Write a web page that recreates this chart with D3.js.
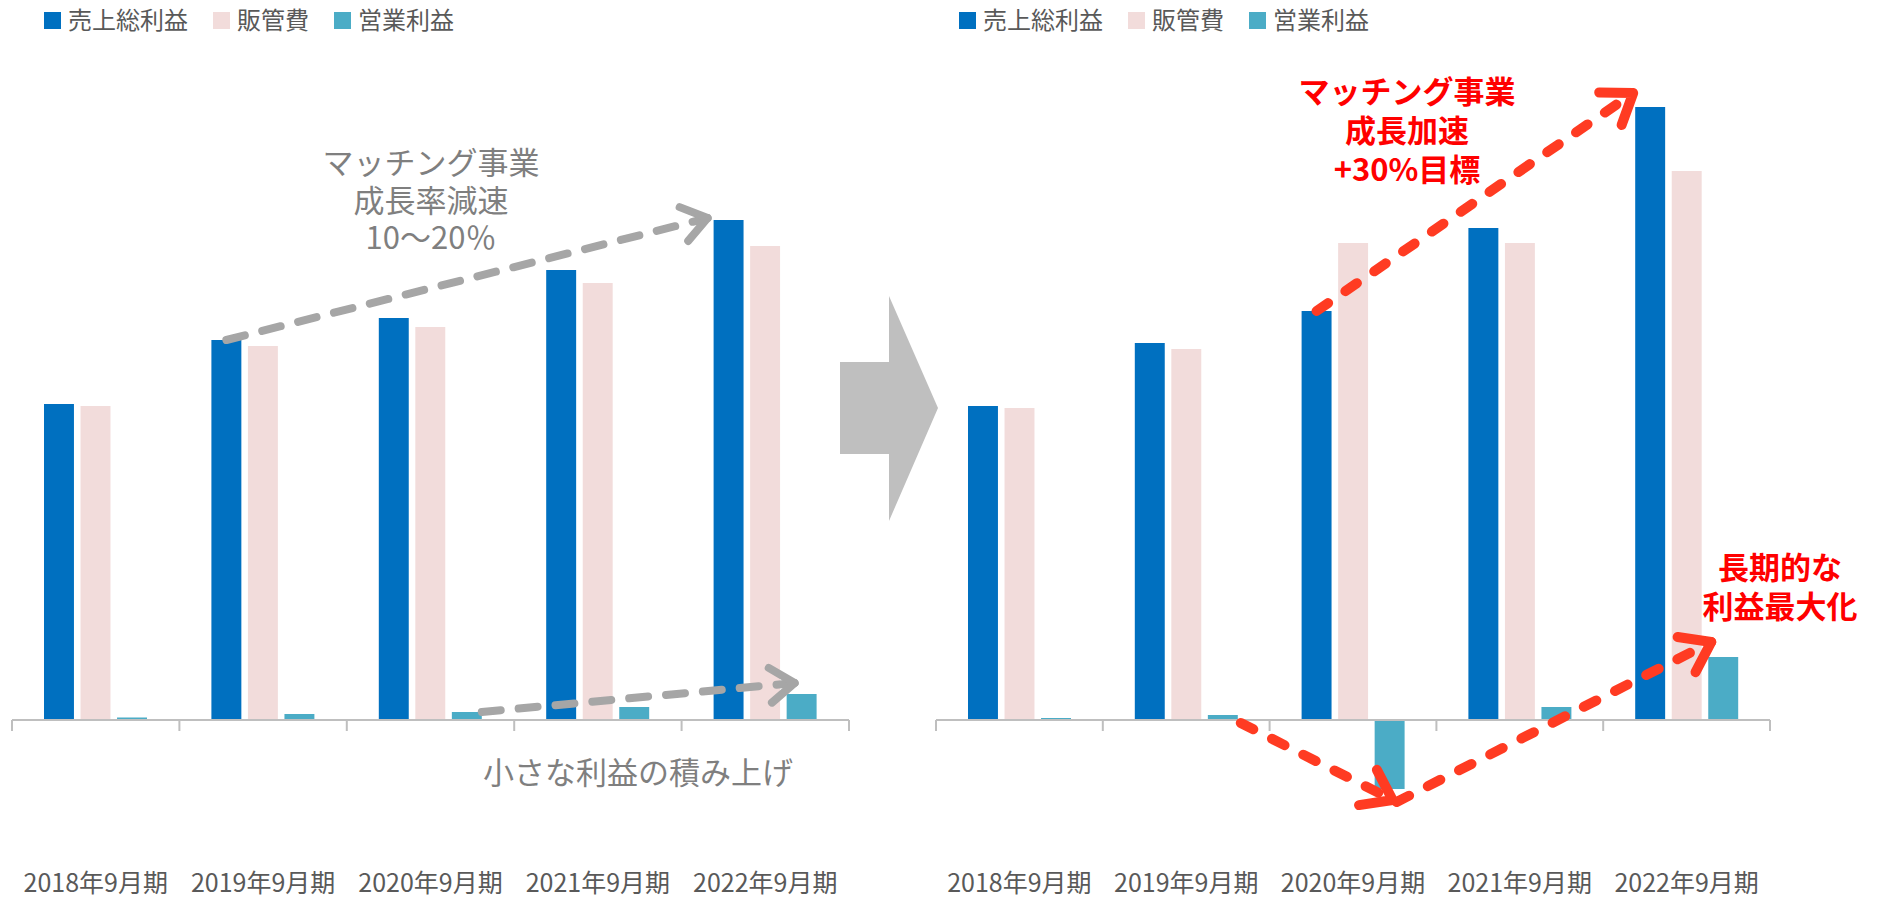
<!DOCTYPE html>
<html>
<head>
<meta charset="utf-8">
<script src="https://cdn.jsdelivr.net/npm/d3@7"></script>
<style>
  body { margin: 0; background: #fff; }
  text { font-family: "Noto Sans CJK JP", "Noto Sans", sans-serif; }
</style>
</head>
<body>
<script>
// periods and series
const categories = ['2018年9月期', '2019年9月期', '2020年9月期', '2021年9月期', '2022年9月期']
const seriesNames = ['売上総利益', '販管費', '営業利益']

// left chart: actuals (relative units)
const leftGross = [3160, 3800, 4020, 4500, 5000]
const leftSga = [3140, 3740, 3930, 4370, 4740]
const leftOp = [25, 60, 80, 130, 260]

// right chart: plan
const rightGross = [3140, 3770, 4090, 4920, 6130]
const rightSga = [3120, 3710, 4770, 4770, 5490]
const rightOp = [20, 50, -690, 130, 630]

const w = 1879
const h = 899
const colors = ['#0070c0', '#f2dcdb', '#4bacc6']

const svg = d3.select('body')
    .append('svg')
    .attr('width', w)
    .attr('height', h)

const y = d3.scaleLinear()
    .domain([-1000, 6500])
    .range([820, 70])

const drawChart = (x0start, x0end, gross, sga, op, legendX) => {
    const x0 = d3.scaleBand().domain(categories).range([x0start, x0end])
    const x1 = d3.scaleBand().domain(seriesNames).range([32, 135]).paddingInner(0.18)
    const rows = categories.map((c, i) => ({ cat: c, vals: [gross[i], sga[i], op[i]] }))

    const g = svg.append('g')

    g.selectAll('g.grp')
        .data(rows)
        .enter()
        .append('g')
        .attr('class', 'grp')
        .attr('transform', d => `translate(${x0(d.cat)},0)`)
        .selectAll('rect')
        .data(d => d.vals.map((v, k) => ({ k, v })))
        .enter()
        .append('rect')
        .attr('x', d => x1(seriesNames[d.k]))
        .attr('width', x1.bandwidth())
        .attr('y', d => y(Math.max(0, d.v)))
        .attr('height', d => Math.abs(y(d.v) - y(0)))
        .attr('fill', d => colors[d.k])

    // axis line with ticks on band edges
    g.append('line')
        .attr('x1', x0start).attr('x2', x0end)
        .attr('y1', y(0)).attr('y2', y(0))
        .attr('stroke', '#bfbfbf')
        .attr('stroke-width', 2)

    g.selectAll('line.tick')
        .data(categories.map(c => x0(c)).concat([x0end]))
        .enter()
        .append('line')
        .attr('class', 'tick')
        .attr('x1', d => d).attr('x2', d => d)
        .attr('y1', y(0)).attr('y2', y(0) + 11)
        .attr('stroke', '#bfbfbf')
        .attr('stroke-width', 2)

    g.selectAll('text.lab')
        .data(categories)
        .enter()
        .append('text')
        .attr('class', 'lab')
        .attr('x', d => x0(d) + x0.bandwidth() / 2)
        .attr('y', 892)
        .attr('text-anchor', 'middle')
        .attr('font-size', 25)
        .attr('fill', '#595959')
        .text(d => d)

    // legend
    let lx = legendX
    seriesNames.forEach((s, i) => {
        g.append('rect')
            .attr('x', lx).attr('y', 12)
            .attr('width', 17).attr('height', 17)
            .attr('fill', colors[i])
        const t = g.append('text')
            .attr('x', lx + 24).attr('y', 29)
            .attr('font-size', 24)
            .attr('fill', '#595959')
            .text(s)
        lx += 24 + t.node().getComputedTextLength() + 25
    })

    return { x0, x1 }
}

const dashedArrow = (xa, ya, xb, yb, color, sw, dash, head) => {
    svg.append('line')
        .attr('x1', xa).attr('y1', ya)
        .attr('x2', xb).attr('y2', yb)
        .attr('stroke', color)
        .attr('stroke-width', sw)
        .attr('stroke-linecap', 'round')
        .attr('stroke-dasharray', dash)
    const a = Math.atan2(yb - ya, xb - xa)
    const sp = 0.62
    const p1 = [xb + head * Math.cos(a + Math.PI - sp), yb + head * Math.sin(a + Math.PI - sp)]
    const p2 = [xb + head * Math.cos(a + Math.PI + sp), yb + head * Math.sin(a + Math.PI + sp)]
    svg.append('path')
        .attr('d', `M${p1[0]},${p1[1]}L${xb},${yb}L${p2[0]},${p2[1]}`)
        .attr('fill', 'none')
        .attr('stroke', color)
        .attr('stroke-width', sw)
        .attr('stroke-linecap', 'round')
        .attr('stroke-linejoin', 'round')
}

// one text element, one tspan per line
const multiText = (lines, x, y0, lh, size, color, weight) => {
    const t = svg.append('text')
        .attr('text-anchor', 'middle')
        .attr('font-size', size)
        .attr('font-weight', weight)
        .attr('fill', color)
    lines.forEach((l, i) => {
        t.append('tspan')
            .attr('x', x)
            .attr('y', y0 + i * lh + size * 0.36)
            .text(l)
    })
}

const L = drawChart(12, 849, leftGross, leftSga, leftOp, 44)
const R = drawChart(936, 1770, rightGross, rightSga, rightOp, 959)

// big gray arrow between the charts
svg.append('path')
    .attr('d', 'M840,362L889,362L889,296L938,408L889,521L889,454L840,454Z')
    .attr('fill', '#bfbfbf')

// left annotations
const gx = (s, c, sc) => sc.x0(categories[c]) + sc.x1(seriesNames[s])
const bw = L.x1.bandwidth()

dashedArrow(gx(0, 1, L) + bw / 2, y(leftGross[1]), gx(0, 4, L) - 6, y(leftGross[4]) - 2,
    '#a6a6a6', 8, '19 18', 30)
dashedArrow(gx(2, 2, L) + bw, y(leftOp[2]), gx(2, 4, L) + 8, y(leftOp[4]) - 11,
    '#a6a6a6', 8, '19 18', 30)

multiText(['マッチング事業', '成長率減速', '10～20％'], 431, 163, 37.5, 31, '#7f7f7f', 400)

svg.append('text')
    .attr('x', 483)
    .attr('y', 770)
    .attr('dominant-baseline', 'central')
    .attr('font-size', 31)
    .attr('fill', '#7f7f7f')
    .text('小さな利益の積み上げ')

// right annotations
const red = '#ff3b22'
dashedArrow(gx(0, 2, R) + bw / 2, y(rightGross[2]), gx(0, 4, R) - 2, y(rightGross[4]) - 14,
    red, 10, '14 21', 34)
dashedArrow(gx(2, 1, R) + bw + 3, y(0) + 3, gx(2, 2, R) + bw / 2 + 3, y(rightOp[2]) + 11,
    red, 10, '14 21', 34)
dashedArrow(gx(2, 2, R) + bw / 2 + 7, y(rightOp[2]) + 13, gx(2, 4, R) + 3, y(rightOp[4]) - 15,
    red, 10, '14 21', 34)

multiText(['マッチング事業', '成長加速', '+30%目標'], 1407, 92, 39, 31, '#ff0000', 700)
multiText(['長期的な', '利益最大化'], 1780, 568, 39, 31, '#ff0000', 700)
</script>
</body>
</html>
